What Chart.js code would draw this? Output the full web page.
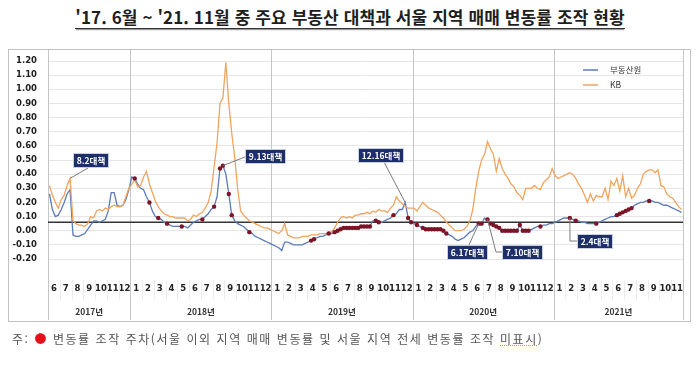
<!DOCTYPE html>
<html lang="ko">
<head>
<meta charset="utf-8">
<script src="https://cdn.jsdelivr.net/npm/chart.js@4"></script>
<style>
  html, body { margin: 0; padding: 0; background: #fff; }
  body { width: 700px; height: 365px; position: relative; overflow: hidden; font-family: "Noto Sans CJK KR", sans-serif; }
  #title { position: absolute; top: 6px; left: 0; width: 700px; text-align: center; line-height: 21px; }
  #title span { display: inline-block; font-size: 17px; font-weight: 700; color: #1e1e1e; letter-spacing: 0.1px;
                border-bottom: 1.5px solid #333; box-shadow: 0 2px 1px -1px #9a9a9a; padding-bottom: 1px; }
  #frame { position: absolute; left: 8px; top: 49px; width: 681px; height: 271px; border: 1px solid #c2c2c2; }
  #chart { position: absolute; left: 0; top: 0; }
  #note { position: absolute; left: 12px; top: 330px; font-size: 12px; color: #555; letter-spacing: 1.55px; line-height: 18px; }
  #note .dot { color: #e3101c; }
  #note .sq { text-decoration: underline dotted #b8a848; }
</style>
</head>
<body>
<div id="title"><span>'17. 6월 ~ '21. 11월 중 주요 부동산 대책과 서울 지역 매매 변동률 조작 현황</span></div>
<div id="frame"></div>
<canvas id="chart" width="700" height="365"></canvas>
<div id="note">주: <span class="dot">●</span> 변동률 조작 주차(서울 이외 지역 매매 변동률 및 서울 지역 전세 변동률 조작 <span class="sq">미표시</span>)</div>

<script>
// years on the axis, first and last month shown in each
const years = ['2017년', '2018년', '2019년', '2020년', '2021년'];
const yearFirstMonth = [6, 1, 1, 1, 1];
const yearLastMonth = [12, 12, 12, 12, 11];

// weekly change rate (%), 4 readings per month, Jun 2017 .. Nov 2021
const reb = [ // 부동산원
  0.26, 0.15, 0.10, 0.11,   0.15, 0.20, 0.26, 0.29,   -0.03, -0.04, -0.04, -0.03,
  -0.02, 0.01, 0.04, 0.07,  0.07, 0.06, 0.07, 0.08,   0.14, 0.27, 0.27, 0.18,
  0.17, 0.18, 0.22, 0.29,
  0.38, 0.37, 0.33, 0.30,   0.29, 0.24, 0.20, 0.14,   0.10, 0.09, 0.08, 0.06,
  0.05, 0.04, 0.03, 0.03,   0.03, 0.03, 0.03, 0.02,   0.04, 0.06, 0.07, 0.08,
  0.08, 0.10, 0.12, 0.15,   0.17, 0.24, 0.44, 0.46,   0.40, 0.26, 0.11, 0.07,
  0.05, 0.04, 0.03, 0.01,   -0.01, -0.02, -0.04, -0.05,  -0.06, -0.07, -0.08, -0.09,
  -0.10, -0.11, -0.12, -0.14,  -0.08, -0.08, -0.09, -0.10,  -0.10, -0.10, -0.10, -0.09,
  -0.08, -0.07, -0.06, -0.05,  -0.04, -0.04, -0.03, -0.02,  -0.02, -0.01, 0.00, 0.01,
  0.02, 0.02, 0.02, 0.02,   0.02, 0.02, 0.03, 0.03,   0.03, 0.03, 0.07, 0.07,
  0.06, 0.06, 0.07, 0.08,   0.09, 0.11, 0.12, 0.15,   0.15, 0.20, 0.09, 0.06,
  0.05, 0.04, 0.03, 0.02,   0.01, 0.01, 0.01, 0.01,   0.01, 0.01, 0.00, -0.02,
  -0.03, -0.04, -0.06, -0.07,  -0.06, -0.05, -0.03, -0.01,  0.00, 0.03, 0.05, 0.05,
  0.09, 0.08, 0.05, 0.04,   0.03, 0.02, 0.00, 0.00,   0.00, 0.00, 0.00, 0.00,
  0.04, 0.00, 0.00, 0.00,   0.01, 0.02, 0.03, 0.03,   0.04, 0.04, 0.05, 0.05,
  0.06, 0.07, 0.08, 0.09,   0.09, 0.09, 0.08, 0.07,   0.07, 0.06, 0.06, 0.05,
  0.05, 0.05, 0.05, 0.06,   0.07, 0.08, 0.09, 0.10,   0.10, 0.11, 0.12, 0.13,
  0.14, 0.15, 0.16, 0.18,   0.19, 0.20, 0.20, 0.21,   0.21, 0.21, 0.20, 0.20,
  0.19, 0.18, 0.18, 0.17,   0.16, 0.15, 0.14, 0.13
];
const kb = [
  0.32, 0.25, 0.20, 0.16,   0.22, 0.25, 0.32, 0.37,   0.07, 0.05, 0.04, 0.04,
  0.03, 0.05, 0.10, 0.09,   0.14, 0.15, 0.14, 0.16,   0.15, 0.17, 0.18, 0.17,
  0.17, 0.18, 0.24, 0.30,
  0.33, 0.36, 0.31, 0.32,   0.38, 0.42, 0.33, 0.27,   0.21, 0.17, 0.14, 0.12,
  0.11, 0.10, 0.10, 0.09,   0.09, 0.09, 0.09, 0.07,   0.08, 0.11, 0.10, 0.12,
  0.13, 0.16, 0.20, 0.28,   0.45, 0.62, 0.90, 0.94,   1.19, 0.90, 0.69, 0.52,
  0.30, 0.14, 0.11, 0.09,   0.07, 0.06, 0.05, 0.04,   0.03, 0.02, 0.02, 0.01,
  0.00, -0.01, -0.02, 0.00,  0.05, -0.03, -0.04, -0.05,  -0.05, -0.05, -0.04, -0.04,
  -0.04, -0.03, -0.03, -0.03,  -0.02, -0.02, -0.02, -0.01,  -0.01, 0.02, 0.06, 0.09,
  0.10, 0.09, 0.10, 0.09,   0.11, 0.11, 0.12, 0.12,   0.13, 0.12, 0.14, 0.13,
  0.15, 0.14, 0.14, 0.13,   0.16, 0.18, 0.24, 0.21,   0.19, 0.17, 0.16, 0.16,
  0.16, 0.14, 0.17, 0.20,   0.18, 0.16, 0.15, 0.14,   0.13, 0.11, 0.09, 0.06,
  0.04, 0.02, 0.00, 0.00,   0.00, 0.01, 0.03, 0.07,   0.15, 0.30, 0.42, 0.50,
  0.54, 0.63, 0.58, 0.54,   0.42, 0.51, 0.44, 0.40,   0.37, 0.33, 0.31, 0.27,
  0.25, 0.22, 0.30, 0.30,   0.30, 0.32, 0.30, 0.29,   0.34, 0.36, 0.38, 0.44,
  0.39, 0.37, 0.38, 0.39,   0.40, 0.41, 0.40, 0.37,   0.33, 0.30, 0.25, 0.20,
  0.26, 0.21, 0.25, 0.24,   0.24, 0.30, 0.22, 0.35,   0.32, 0.37, 0.28, 0.39,
  0.24, 0.30, 0.23, 0.25,   0.30, 0.33, 0.40, 0.42,   0.43, 0.43, 0.41, 0.43,
  0.32, 0.31, 0.26, 0.24,   0.23, 0.20, 0.17, 0.15
];

// weeks (index into reb) flagged as manipulated
const markedWeeks = [
  29, 34, 37, 40, 45, 52, 56, 58, 59, 61, 62, 68,
  89, 90, 95, 97, 98, 99, 100, 101, 102, 103, 104, 105, 106, 107, 108, 109, 111, 112, 117, 122, 123,
  125, 127, 128, 129, 130, 131, 132, 133, 134, 135, 146, 147, 149, 150, 151, 152,
  153, 154, 155, 156, 157, 158, 159, 160, 161, 162, 163, 167,
  177, 179, 186, 193, 194, 195, 196, 197, 198, 204
];

// policy announcements: label, series, week
const policyText = ['8.2대책', '9.13대책', '12.16대책', '6.17대책', '7.10대책', '2.4대책'];
const policySeries = ['kb', 'reb', 'reb', 'reb', 'reb', 'reb'];
const policyWeek = [7, 59, 121, 146, 149, 177];

const baseLevel = 0.06;
const yMin = -0.2, yMax = 1.2, yStep = 0.1;

// ---- derived ----
const monthLabels = [];
years.forEach((y, i) => {
  for (let m = yearFirstMonth[i]; m <= yearLastMonth[i]; m++) monthLabels.push(String(m));
});
const nMonths = monthLabels.length;
const perMonth = 4;
const xOf = k => Math.floor(k / perMonth) + ((k % perMonth) + 0.5) / perMonth;
const series = { reb, kb };

// box placement for each note, relative to its anchor point (px)
const noteLayout = [
  { dx: 3,   dy: -25, leader: [[15, 15]] },
  { dx: 22,  dy: -17, leader: [[0, 8]] },
  { dx: -47, dy: -54, leader: [[26, 14]] },
  { dx: -32, dy: 21,  leader: [[22, 0]] },
  { dx: 14,  dy: 26,  leader: [[-6, 7], [0, 7]] },
  { dx: 7,   dy: 16,  leader: [[-7, 7], [0, 7]] }
];

const numFont = { family: 'DejaVu Sans', size: 8.5, weight: 'bold' };

const decor = {
  id: 'decor',
  beforeDatasetsDraw(chart) {
    const { ctx, scales: { x } } = chart;
    ctx.save();
    // faint month separators under the tick labels
    ctx.strokeStyle = '#ececec';
    ctx.lineWidth = 1;
    for (let i = 1; i < nMonths; i++) {
      const px = Math.round(x.getPixelForValue(i)) + 0.5;
      ctx.beginPath(); ctx.moveTo(px, 280); ctx.lineTo(px, 300); ctx.stroke();
    }
    // year dividers, full frame height
    ctx.strokeStyle = '#c6c6c6';
    let start = 0;
    const bounds = [0];
    years.forEach((y, i) => { start += yearLastMonth[i] - yearFirstMonth[i] + 1; bounds.push(start); });
    bounds.forEach(b => {
      const px = Math.round(x.getPixelForValue(b)) + 0.5;
      ctx.beginPath(); ctx.moveTo(px, 50); ctx.lineTo(px, 320); ctx.stroke();
    });
    // year labels
    ctx.fillStyle = '#333';
    ctx.font = 'bold 8.5px "Noto Sans CJK KR"';
    ctx.textAlign = 'center';
    ctx.textBaseline = 'middle';
    years.forEach((y, i) => {
      const mid = (bounds[i] + bounds[i + 1]) / 2;
      ctx.fillText(y, x.getPixelForValue(mid), 312);
    });
    ctx.restore();
  },
  afterDatasetsDraw(chart) {
    const { ctx, chartArea: a, scales: { x, y } } = chart;
    ctx.save();
    // policy notes
    ctx.font = 'bold 8.5px "Noto Sans CJK KR"';
    ctx.textBaseline = 'middle';
    ctx.textAlign = 'center';
    policyText.forEach((t, i) => {
      const k = policyWeek[i];
      const ax = x.getPixelForValue(xOf(k));
      const ay = y.getPixelForValue(series[policySeries[i]][k]);
      const L = noteLayout[i];
      const bx = Math.round(ax + L.dx), by = Math.round(ay + L.dy);
      const w = Math.round(ctx.measureText(t).width + 8), h = 15;
      ctx.strokeStyle = '#7a7a7a';
      ctx.lineWidth = 1;
      ctx.beginPath();
      ctx.moveTo(ax, ay);
      L.leader.forEach(p => ctx.lineTo(bx + p[0], by + p[1]));
      ctx.stroke();
      ctx.fillStyle = '#1d2f68';
      ctx.fillRect(bx, by, w, h);
      ctx.strokeStyle = '#c9d0e0';
      ctx.strokeRect(bx + 0.5, by + 0.5, w - 1, h - 1);
      ctx.fillStyle = '#fff';
      ctx.fillText(t, bx + w / 2, by + h / 2 + 0.5);
    });
    // legend
    ctx.font = '8.5px "Noto Sans CJK KR"';
    ctx.textAlign = 'left';
    [chart.data.datasets[2], chart.data.datasets[1]].forEach((ds, i) => {
      const ly = a.top + 9 + i * 15;
      ctx.strokeStyle = ds.borderColor;
      ctx.lineWidth = 1.5;
      ctx.beginPath(); ctx.moveTo(a.right - 100, ly); ctx.lineTo(a.right - 85, ly); ctx.stroke();
      ctx.fillStyle = '#333';
      ctx.fillText(ds.label, a.right - 73, ly);
    });
    ctx.restore();
  }
};

new Chart(document.getElementById('chart'), {
  type: 'line',
  data: {
    datasets: [
      {
        label: '조작 주차',
        data: markedWeeks.map(k => ({ x: xOf(k), y: reb[k] })),
        showLine: false,
        pointRadius: 2.2,
        pointBackgroundColor: '#7c1426',
        pointBorderWidth: 0
      },
      {
        label: 'KB',
        data: kb.map((v, k) => ({ x: xOf(k), y: v })),
        borderColor: '#f0a45e',
        borderWidth: 1.3,
        pointRadius: 0
      },
      {
        label: '부동산원',
        data: reb.map((v, k) => ({ x: xOf(k), y: v })),
        borderColor: '#5b7cb6',
        borderWidth: 1.3,
        pointRadius: 0
      },
      {
        label: 'base',
        data: [{ x: 0, y: baseLevel }, { x: nMonths, y: baseLevel }],
        borderColor: '#333',
        borderWidth: 1.3,
        pointRadius: 0
      }
    ]
  },
  options: {
    responsive: false,
    animation: false,
    devicePixelRatio: 1,
    layout: { padding: { left: 8, right: 17, top: 61, bottom: 0 } },
    plugins: { legend: { display: false }, tooltip: { enabled: false } },
    scales: {
      x: {
        type: 'linear',
        min: 0,
        max: nMonths,
        afterBuildTicks: s => { s.ticks = monthLabels.map((_, i) => ({ value: i + 0.5 })); },
        afterFit: s => { s.height = 106; },
        ticks: {
          autoSkip: false,
          maxRotation: 0,
          padding: 2,
          color: '#222',
          font: numFont,
          callback: v => monthLabels[Math.floor(v)]
        },
        grid: { display: true, drawOnChartArea: false, drawTicks: true, tickLength: 23, tickColor: 'rgba(0,0,0,0)' },
        border: { display: false }
      },
      y: {
        min: yMin,
        max: yMax,
        afterFit: s => { s.width = 40; },
        ticks: {
          stepSize: yStep,
          padding: 11,
          color: '#222',
          font: numFont,
          callback: v => (Math.abs(v) < 1e-9 ? 0 : v).toFixed(2)
        },
        grid: { color: '#e6e6e6', drawTicks: false },
        border: { display: false }
      }
    }
  },
  plugins: [decor]
});
</script>
</body>
</html>
